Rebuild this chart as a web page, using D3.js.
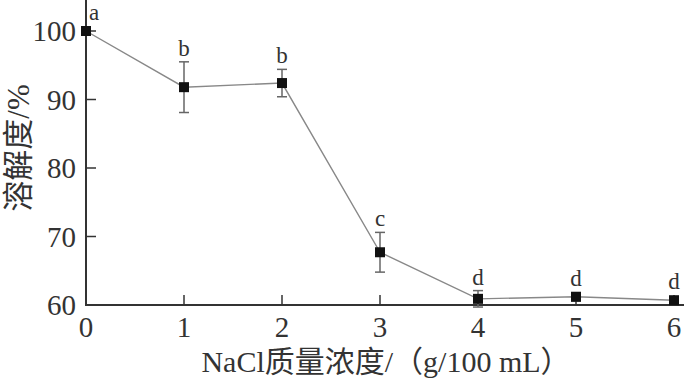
<!DOCTYPE html>
<html>
<head>
<meta charset="utf-8">
<script src="https://cdn.jsdelivr.net/npm/d3@7"></script>
<style>
  body { margin: 0; background: #fff; }
  text { font-family: "Liberation Serif", "Noto Sans CJK SC", serif; fill: #333; }
</style>
</head>
<body>
<div id="chart"></div>
<script>
// NaCl concentration (g/100 mL)
const nacl = [0, 1, 2, 3, 4, 5, 6];
// solubility (%)
const solubility = [100, 91.8, 92.4, 67.7, 60.9, 61.2, 60.7];
const errors = [0, 3.7, 2.0, 2.9, 1.2, 0.6, 0];
const letters = ["a", "b", "b", "c", "d", "d", "d"];
const xTicks = [0, 1, 2, 3, 4, 5, 6];
const yTicks = [60, 70, 80, 90, 100];

const width = 684;
const height = 384;

const svg = d3.select("#chart")
  .append("svg")
  .attr("width", width)
  .attr("height", height);

const x = d3.scaleLinear().domain([0, 6]).range([86, 674]);
const y = d3.scaleLinear().domain([60, 100]).range([305, 31]);

const pts = nacl.map((c, i) => ({
  c: c, v: solubility[i], e: errors[i], label: letters[i]
}));

// axes lines
svg.append("line")
  .attr("x1", x(0)).attr("x2", x(0))
  .attr("y1", 0).attr("y2", y(60) + 1)
  .attr("stroke", "#333").attr("stroke-width", 2);
svg.append("line")
  .attr("x1", x(0) - 1).attr("x2", width)
  .attr("y1", y(60)).attr("y2", y(60))
  .attr("stroke", "#333").attr("stroke-width", 2);

// y ticks (inward)
svg.selectAll(".ytick")
  .data(yTicks.filter(t => t > 60))
  .enter().append("line")
  .attr("x1", x(0)).attr("x2", x(0) + 10)
  .attr("y1", d => y(d)).attr("y2", d => y(d))
  .attr("stroke", "#333").attr("stroke-width", 1.5);

svg.selectAll(".ylab")
  .data(yTicks)
  .enter().append("text")
  .attr("x", x(0) - 10)
  .attr("y", d => y(d) + 10)
  .attr("text-anchor", "end")
  .style("font-size", "29px")
  .text(d => d);

// x ticks (inward)
svg.selectAll(".xtick")
  .data(xTicks.filter(t => t > 0))
  .enter().append("line")
  .attr("x1", d => x(d)).attr("x2", d => x(d))
  .attr("y1", y(60)).attr("y2", y(60) - 10)
  .attr("stroke", "#333").attr("stroke-width", 1.5);

svg.selectAll(".xlab")
  .data(xTicks)
  .enter().append("text")
  .attr("x", d => x(d))
  .attr("y", y(60) + 32)
  .attr("text-anchor", "middle")
  .style("font-size", "29px")
  .text(d => d);

// axis titles
svg.append("text")
  .attr("x", 386)
  .attr("y", 372)
  .attr("text-anchor", "middle")
  .style("font-size", "30px")
  .text("NaCl质量浓度/（g/100 mL）");

svg.append("text")
  .attr("transform", "translate(29,148) rotate(-90)")
  .attr("text-anchor", "middle")
  .style("font-size", "31px")
  .text("溶解度/%");

// connecting line
svg.append("path")
  .datum(pts)
  .attr("fill", "none")
  .attr("stroke", "#888")
  .attr("stroke-width", 1.4)
  .attr("d", d3.line().x(d => x(d.c)).y(d => y(d.v)));

// error bars
const eb = svg.selectAll(".err")
  .data(pts.filter(d => d.e > 0))
  .enter().append("g")
  .attr("stroke", "#666")
  .attr("stroke-width", 1.5);

eb.append("line")
  .attr("x1", d => x(d.c)).attr("x2", d => x(d.c))
  .attr("y1", d => y(d.v + d.e)).attr("y2", d => y(d.v - d.e));
eb.append("line")
  .attr("x1", d => x(d.c) - 5).attr("x2", d => x(d.c) + 5)
  .attr("y1", d => y(d.v + d.e)).attr("y2", d => y(d.v + d.e));
eb.append("line")
  .attr("x1", d => x(d.c) - 5).attr("x2", d => x(d.c) + 5)
  .attr("y1", d => y(d.v - d.e)).attr("y2", d => y(d.v - d.e));

// markers
svg.selectAll(".pt")
  .data(pts)
  .enter().append("rect")
  .attr("x", d => x(d.c) - 5)
  .attr("y", d => y(d.v) - 5)
  .attr("width", 10)
  .attr("height", 10)
  .attr("fill", "#111");

// significance letters
svg.selectAll(".sig")
  .data(pts)
  .enter().append("text")
  .attr("x", (d, i) => x(d.c) + (i === 0 ? 8 : 0))
  .attr("y", d => Math.min(y(d.v + d.e), y(d.v) - 5) - 6)
  .attr("text-anchor", "middle")
  .style("font-size", "23px")
  .text(d => d.label);
</script>
</body>
</html>
